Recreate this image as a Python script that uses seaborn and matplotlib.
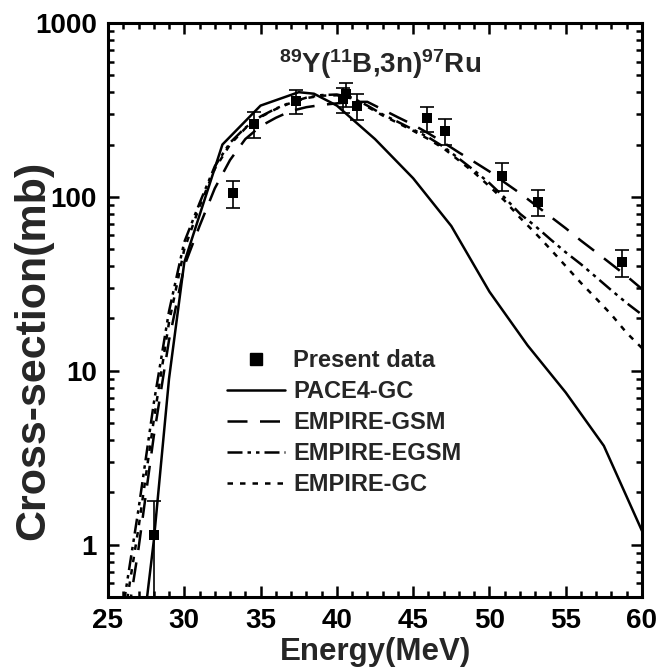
import matplotlib
matplotlib.use("Agg")
import matplotlib.pyplot as plt
import matplotlib.ticker as mticker
from matplotlib.lines import Line2D
import seaborn as sns
import pandas as pd

# Measured cross-sections (present data)
E_exp = [28.0, 33.2, 34.6, 37.3, 40.4, 40.6, 41.3, 45.9, 47.1, 50.8, 53.2, 58.7]
sig_exp = [1.13, 105, 262, 356, 365, 390, 333, 283, 240, 132, 94, 42]
err_exp = [0.65, 19, 45, 58, 60, 60, 57, 47, 41, 24, 16, 7.5]

# PACE4 calculation
E_pace = [27.5, 28, 29, 30, 32.5, 35, 37.5, 38.5, 40, 42.5, 45, 47.5, 50, 52.5, 55, 57.5, 60]
sig_pace = [0.45, 1.05, 9, 42, 200, 335, 400, 392, 335, 215, 128, 68, 28.5, 14, 7.5, 3.7, 1.2]

# EMPIRE calculations
E_emp = [26, 27, 28, 29, 30, 31, 32, 33, 34, 35, 36, 37, 38, 39, 40, 41, 42, 43,
         44, 45, 46, 47, 48, 49, 50, 51, 52, 53, 54, 55, 56, 57, 58, 59, 60]
sig_gsm = [0.26, 0.95, 4.2, 15, 40, 68, 112, 163, 215, 255, 285, 312, 328, 338, 345,
           352, 352, 318, 287, 260, 232, 205, 180, 159, 140, 121, 105, 90, 77, 66,
           56, 48, 41, 35, 29.5]
sig_egsm = [0.44, 1.6, 6.5, 22, 55, 92, 150, 205, 250, 290, 322, 350, 372, 385, 388,
            372, 335, 298, 270, 244, 220, 194, 166, 142, 120, 99, 80, 68, 57, 48,
            41, 34.5, 29, 24.5, 21]
sig_gc = [0.35, 1.25, 5.2, 19, 50, 88, 145, 200, 248, 288, 320, 348, 370, 382, 384,
          368, 330, 294, 266, 240, 215, 190, 162, 138, 115, 95, 76, 62, 50, 40,
          32, 26, 21, 16.5, 13.5]

labels = ["Present data", "PACE4-GC", "EMPIRE-GSM", "EMPIRE-EGSM", "EMPIRE-GC"]

sns.set_theme(style="ticks")
plt.rcParams["font.family"] = ["Liberation Sans", "DejaVu Sans"]
plt.rcParams["font.weight"] = "bold"
plt.rcParams["mathtext.fontset"] = "custom"
plt.rcParams["mathtext.rm"] = "Liberation Sans:bold"
plt.rcParams["mathtext.it"] = "Liberation Sans:bold"
plt.rcParams["mathtext.bf"] = "Liberation Sans:bold"
plt.rcParams["mathtext.default"] = "rm"

fig = plt.figure(figsize=(6.72, 6.70), dpi=100)
ax = fig.add_axes([108 / 672, 1 - 597 / 670, 534 / 672, 574 / 670])

lw = 1.8
styles = {
    "PACE4-GC": "-",
    "EMPIRE-GSM": (0, (8, 5)),
    "EMPIRE-EGSM": (0, (6, 2, 1.4, 2, 1.4, 2)),
    "EMPIRE-GC": (0, (2.2, 2.8)),
}
curves = {
    "PACE4-GC": (E_pace, sig_pace),
    "EMPIRE-GSM": (E_emp, sig_gsm),
    "EMPIRE-EGSM": (E_emp, sig_egsm),
    "EMPIRE-GC": (E_emp, sig_gc),
}
for name, (ex, sy) in curves.items():
    df = pd.DataFrame({"E": ex, "sigma": sy})
    sns.lineplot(data=df, x="E", y="sigma", ax=ax, color="black", lw=lw,
                 linestyle=styles[name], legend=False)

ax.errorbar(E_exp, sig_exp, yerr=err_exp, fmt="none", ecolor="black",
            elinewidth=1.2, capsize=5, capthick=1.2, zorder=4)
exp_df = pd.DataFrame({"E": E_exp, "sigma": sig_exp})
sns.scatterplot(data=exp_df, x="E", y="sigma", ax=ax, marker="s", s=52,
                color="black", edgecolor="black", linewidth=0, zorder=5,
                legend=False)

ax.set_yscale("log")
ax.set_xlim(25, 60)
ax.set_ylim(0.5, 1000)
ax.xaxis.set_major_locator(mticker.MultipleLocator(5))
ax.xaxis.set_minor_locator(mticker.MultipleLocator(1))
ax.yaxis.set_major_locator(mticker.FixedLocator([1, 10, 100, 1000]))
ax.yaxis.set_major_formatter(mticker.FixedFormatter(["1", "10", "100", "1000"]))
ax.yaxis.set_minor_locator(mticker.LogLocator(base=10, subs=range(2, 10)))
ax.yaxis.set_minor_formatter(mticker.NullFormatter())

for side in ["left", "right", "top", "bottom"]:
    ax.spines[side].set_linewidth(2.2)
    ax.spines[side].set_color("black")
ax.tick_params(which="both", direction="in", top=True, right=True,
               width=1.8, colors="black", labelsize=20)
ax.tick_params(which="major", length=8, pad=8)
ax.tick_params(which="minor", length=4.5)
for lab in ax.get_xticklabels() + ax.get_yticklabels():
    lab.set_fontweight("bold")

ax.set_xlabel("Energy(MeV)", fontsize=22.5, fontweight="bold", labelpad=2)
ax.set_ylabel("Cross-section(mb)", fontsize=31, fontweight="bold", va="center")
ax.yaxis.set_label_coords(-0.14, 0.43)

ax.text(0.51, 0.929, r"$^{89}$Y($^{11}$B,3n)$^{97}$Ru", transform=ax.transAxes,
        ha="center", va="center", fontsize=20, fontweight="bold")

handles = [
    Line2D([], [], marker="s", color="black", linestyle="none", markersize=8),
    Line2D([], [], color="black", lw=lw, linestyle=styles["PACE4-GC"]),
    Line2D([], [], color="black", lw=lw, linestyle=styles["EMPIRE-GSM"]),
    Line2D([], [], color="black", lw=lw, linestyle=styles["EMPIRE-EGSM"]),
    Line2D([], [], color="black", lw=lw, linestyle=styles["EMPIRE-GC"]),
]
leg = ax.legend(handles, labels, loc="upper left", bbox_to_anchor=(0.223, 0.432),
                frameon=False, borderpad=0, borderaxespad=0, handlelength=2.45,
                handletextpad=0.34, labelspacing=0.34,
                prop={"size": 17, "weight": "bold"})

fig.savefig("out.png", dpi=100)
